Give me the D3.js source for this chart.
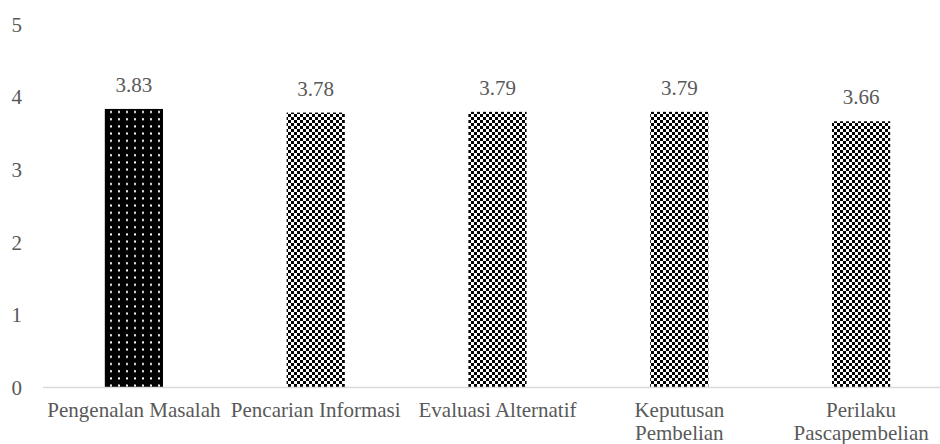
<!DOCTYPE html>
<html>
<head>
<meta charset="utf-8">
<script src="https://cdn.jsdelivr.net/npm/d3@7"></script>
<style>
  body { margin: 0; background: #fff; }
</style>
</head>
<body>
<svg id="canvas" width="940" height="444"></svg>
<script>
var categories = ['Pengenalan Masalah', 'Pencarian Informasi', 'Evaluasi Alternatif', 'Keputusan Pembelian', 'Perilaku Pascapembelian'];
var catLines = [['Pengenalan Masalah'], ['Pencarian Informasi'], ['Evaluasi Alternatif'], ['Keputusan', 'Pembelian'], ['Perilaku', 'Pascapembelian']];
var values = [3.83, 3.78, 3.79, 3.79, 3.66];
var patterns = ['dots', 'checker', 'checker', 'checker', 'checker'];
var yTicks = [0, 1, 2, 3, 4, 5];

var FONT = '"Liberation Serif", "Times New Roman", serif';
var svg = d3.select('#canvas');

// fill patterns
var defs = svg.append('defs');
var dots = defs.append('pattern').attr('id', 'dots')
  .attr('patternUnits', 'userSpaceOnUse').attr('width', 8).attr('height', 7.2)
  .attr('x', 107).attr('y', 0);
dots.append('rect').attr('width', 8).attr('height', 7.2).attr('fill', '#000');
dots.append('rect').attr('x', 3).attr('y', 3).attr('width', 2).attr('height', 2).attr('fill', '#fff');

var checker = defs.append('pattern').attr('id', 'checker')
  .attr('patternUnits', 'userSpaceOnUse').attr('width', 6).attr('height', 6);
checker.append('rect').attr('width', 6).attr('height', 6).attr('fill', '#fff');
checker.append('rect').attr('width', 3).attr('height', 3).attr('fill', '#000');
checker.append('rect').attr('x', 3).attr('y', 3).attr('width', 3).attr('height', 3).attr('fill', '#000');

var x = d3.scaleBand().domain(categories).range([43, 952]).paddingInner(0.68).paddingOuter(0.34);
var y = d3.scaleLinear().domain([0, 5]).range([387, 24]);

// y axis labels
var yAxis = svg.append('g').attr('transform', 'translate(22,0)')
  .call(d3.axisLeft(y).tickValues(yTicks).tickSize(0).tickPadding(0).tickFormat(d3.format('d')));
yAxis.select('.domain').remove();
yAxis.attr('font-family', null);
yAxis.selectAll('text').style('font-family', FONT).style('font-size', '21px').style('fill', '#595959').attr('dy', '0.35em');

// bars
svg.selectAll('.bar').data(values).enter().append('rect')
  .attr('class', 'bar')
  .attr('x', function(d, i) { return x(categories[i]); })
  .attr('y', function(d) { return y(d); })
  .attr('width', x.bandwidth())
  .attr('height', function(d) { return y(0) - y(d); })
  .attr('fill', function(d, i) { return 'url(#' + patterns[i] + ')'; });

// value labels
svg.selectAll('.val').data(values).enter().append('text')
  .attr('class', 'val')
  .attr('x', function(d, i) { return x(categories[i]) + x.bandwidth() / 2; })
  .attr('y', function(d) { return y(d) - 17; })
  .attr('text-anchor', 'middle')
  .style('font-family', FONT)
  .style('font-size', '21px')
  .style('fill', '#595959')
  .text(function(d) { return d3.format('.2f')(d); });

// x axis
var xAxis = svg.append('g').attr('transform', 'translate(0,' + y(0) + ')')
  .call(d3.axisBottom(x).tickSize(0).tickPadding(0));
xAxis.select('.domain').remove();
xAxis.attr('font-family', null);
xAxis.append('line').attr('x1', 43).attr('x2', 940).attr('y1', 0.5).attr('y2', 0.5)
  .attr('stroke', '#d9d9d9').attr('stroke-width', 1.5);
xAxis.selectAll('.tick text').each(function(d, i) {
  var t = d3.select(this).text(null).attr('y', 0).attr('dy', null)
    .style('font-family', FONT).style('font-size', '21px').style('fill', '#595959');
  catLines[i].forEach(function(line, k) {
    t.append('tspan').attr('x', 0).attr('y', 30 + k * 23).text(line);
  });
});
</script>
</body>
</html>
